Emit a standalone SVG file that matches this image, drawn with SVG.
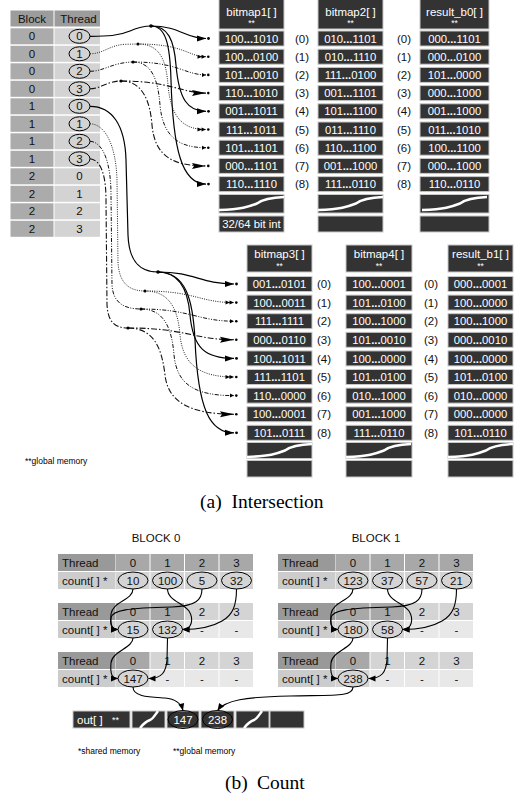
<svg xmlns="http://www.w3.org/2000/svg" xmlns:xlink="http://www.w3.org/1999/xlink" width="518" height="797" viewBox="0 0 518 797">
<defs>
<style>
.t{font-family:"Liberation Sans",Arial,sans-serif;}
.s{font-family:"Liberation Serif","Times New Roman",serif;font-size:19.5px;fill:#000;}
.hd{fill:#9c9c9c;}
.bk{fill:#ababab;}
.th{fill:#d3d3d3;}
.tt{font-size:11.5px;fill:#111;text-anchor:middle;}
.box{fill:#333;stroke:#c8c8c8;stroke-width:1;}
.bt{font-size:11.3px;fill:#fff;text-anchor:middle;}
.ht{font-size:11.5px;fill:#fff;text-anchor:middle;}
.st{font-size:8.5px;fill:#fff;text-anchor:middle;}
.ix{font-size:11.5px;fill:#111;text-anchor:middle;}
.el{fill:none;stroke:#000;stroke-width:1;}
.wave{fill:none;stroke:#fff;stroke-width:2.5;}
.c0{fill:none;stroke:#000;stroke-width:1.2;}
.c1{fill:none;stroke:#222;stroke-width:1;stroke-dasharray:1 1.3;}
.c2{fill:none;stroke:#111;stroke-width:1;stroke-dasharray:4 1.5 1 1.5 1 1.5;}
.c3{fill:none;stroke:#111;stroke-width:1.1;stroke-dasharray:6 2 1.5 2;}
.ca{fill:none;stroke:#000;stroke-width:1.1;}
.tl{fill:#999;}
.ta{fill:#a8a8a8;}
.ti{fill:#d4d4d4;}
.cl{fill:#ccc;}
.cv{fill:#d4d4d4;}
.cx{fill:#e8e8e8;}
.ct{font-size:11.5px;fill:#111;}
.cn{font-size:11.5px;fill:#111;text-anchor:middle;}
.fn{font-size:8.5px;fill:#000;}
.bl{font-size:11.5px;fill:#111;text-anchor:middle;}
.b{font-weight:bold;}
</style>
<path id="wave" class="wave" d="M0,15.5 C23,14.5 29,12.5 38,9 C44,4.5 51,3 65,2.5"/>
<path id="owave" class="wave" d="M8,17 C12,12 15,10 18,9 C21,8 23,4 26,0"/>
<marker id="mSolid" markerUnits="userSpaceOnUse" markerWidth="16" markerHeight="10" refX="9" refY="4" orient="auto" overflow="visible"><path d="M0,1 L9,4 L0,7 Z" fill="#000"/><circle cx="11.5" cy="4" r="1.4" fill="#000"/></marker>
<marker id="mDouble" markerUnits="userSpaceOnUse" markerWidth="16" markerHeight="10" refX="8.5" refY="3.5" orient="auto" overflow="visible"><path d="M0,1.5 L4.5,3.5 L0,5.5Z M4,1.5 L8.5,3.5 L4,5.5Z" fill="#000"/><circle cx="10.8" cy="3.5" r="1.3" fill="#000"/></marker>
<marker id="mSmall" markerUnits="userSpaceOnUse" markerWidth="12" markerHeight="8" refX="4" refY="3" orient="auto" overflow="visible"><path d="M0,1 L4,3 L0,5Z" fill="#000"/><circle cx="6.3" cy="3" r="1.3" fill="#000"/></marker>
<marker id="mBig" markerUnits="userSpaceOnUse" markerWidth="20" markerHeight="10" refX="14" refY="3.5" orient="auto" overflow="visible"><path d="M0,0.5 L14,3.5 L0,6.5 L2,3.5Z" fill="#000"/><circle cx="16.3" cy="3.5" r="1.3" fill="#000"/></marker>
<marker id="mC" markerUnits="userSpaceOnUse" markerWidth="10" markerHeight="8" refX="7" refY="3" orient="auto" overflow="visible"><path d="M0,0 L7,3 L0,6 Z" fill="#000"/></marker>
</defs>
<rect width="518" height="797" fill="#fff"/>

<!-- Block / Thread table -->
<g id="block-thread-table" class="t">
<rect x="10.5" y="10.5" width="43" height="16" class="hd"/>
<rect x="54.5" y="10.5" width="45.5" height="16" class="hd"/>
<text x="32" y="22.6" class="tt">Block</text>
<text x="78.5" y="22.6" class="tt">Thread</text>
<rect x="10.5" y="28.3" width="43" height="16" class="bk"/><rect x="54.5" y="28.3" width="45.5" height="16" class="th"/>
<rect x="10.5" y="45.8" width="43" height="16" class="bk"/><rect x="54.5" y="45.8" width="45.5" height="16" class="th"/>
<rect x="10.5" y="63.3" width="43" height="16" class="bk"/><rect x="54.5" y="63.3" width="45.5" height="16" class="th"/>
<rect x="10.5" y="80.8" width="43" height="16" class="bk"/><rect x="54.5" y="80.8" width="45.5" height="16" class="th"/>
<rect x="10.5" y="98.3" width="43" height="16" class="bk"/><rect x="54.5" y="98.3" width="45.5" height="16" class="th"/>
<rect x="10.5" y="115.8" width="43" height="16" class="bk"/><rect x="54.5" y="115.8" width="45.5" height="16" class="th"/>
<rect x="10.5" y="133.3" width="43" height="16" class="bk"/><rect x="54.5" y="133.3" width="45.5" height="16" class="th"/>
<rect x="10.5" y="150.8" width="43" height="16" class="bk"/><rect x="54.5" y="150.8" width="45.5" height="16" class="th"/>
<rect x="10.5" y="168.3" width="43" height="16" class="bk"/><rect x="54.5" y="168.3" width="45.5" height="16" class="th"/>
<rect x="10.5" y="185.8" width="43" height="16" class="bk"/><rect x="54.5" y="185.8" width="45.5" height="16" class="th"/>
<rect x="10.5" y="203.3" width="43" height="16" class="bk"/><rect x="54.5" y="203.3" width="45.5" height="16" class="th"/>
<rect x="10.5" y="220.8" width="43" height="16" class="bk"/><rect x="54.5" y="220.8" width="45.5" height="16" class="th"/>
<text x="32" y="40.4" class="tt">0</text><text x="79.5" y="40.4" class="tt">0</text>
<text x="32" y="57.9" class="tt">0</text><text x="79.5" y="57.9" class="tt">1</text>
<text x="32" y="75.4" class="tt">0</text><text x="79.5" y="75.4" class="tt">2</text>
<text x="32" y="92.9" class="tt">0</text><text x="79.5" y="92.9" class="tt">3</text>
<text x="32" y="110.4" class="tt">1</text><text x="79.5" y="110.4" class="tt">0</text>
<text x="32" y="127.9" class="tt">1</text><text x="79.5" y="127.9" class="tt">1</text>
<text x="32" y="145.4" class="tt">1</text><text x="79.5" y="145.4" class="tt">2</text>
<text x="32" y="162.9" class="tt">1</text><text x="79.5" y="162.9" class="tt">3</text>
<text x="32" y="180.4" class="tt">2</text><text x="79.5" y="180.4" class="tt">0</text>
<text x="32" y="197.9" class="tt">2</text><text x="79.5" y="197.9" class="tt">1</text>
<text x="32" y="215.4" class="tt">2</text><text x="79.5" y="215.4" class="tt">2</text>
<text x="32" y="232.9" class="tt">2</text><text x="79.5" y="232.9" class="tt">3</text>
<ellipse cx="79.5" cy="36.3" rx="10.5" ry="7" class="el"/>
<ellipse cx="79.5" cy="53.8" rx="10.5" ry="7" class="el"/>
<ellipse cx="79.5" cy="71.3" rx="10.5" ry="7" class="el"/>
<ellipse cx="79.5" cy="88.8" rx="10.5" ry="7" class="el"/>
<ellipse cx="79.5" cy="106.3" rx="10.5" ry="7" class="el"/>
<ellipse cx="79.5" cy="123.8" rx="10.5" ry="7" class="el"/>
<ellipse cx="79.5" cy="141.3" rx="10.5" ry="7" class="el"/>
<ellipse cx="79.5" cy="158.8" rx="10.5" ry="7" class="el"/>
</g>

<!-- Upper bitmap columns -->
<g id="bitmap1" class="t">
<rect x="219" y="-1" width="65" height="30" class="box"/>
<text x="251.5" y="15.5" class="ht">bitmap1[ ]</text><text x="251.5" y="25.5" class="st">**</text>
<rect x="219" y="31" width="65" height="15" class="box"/><text x="251.5" y="42.6" class="bt">100<tspan class="b">...</tspan>1010</text>
<rect x="219" y="49.2" width="65" height="15" class="box"/><text x="251.5" y="60.8" class="bt">100<tspan class="b">...</tspan>0100</text>
<rect x="219" y="67.4" width="65" height="15" class="box"/><text x="251.5" y="79" class="bt">101<tspan class="b">...</tspan>0010</text>
<rect x="219" y="85.6" width="65" height="15" class="box"/><text x="251.5" y="97.2" class="bt">110<tspan class="b">...</tspan>1010</text>
<rect x="219" y="103.8" width="65" height="15" class="box"/><text x="251.5" y="115.4" class="bt">001<tspan class="b">...</tspan>1011</text>
<rect x="219" y="122" width="65" height="15" class="box"/><text x="251.5" y="133.6" class="bt">111<tspan class="b">...</tspan>1011</text>
<rect x="219" y="140.2" width="65" height="15" class="box"/><text x="251.5" y="151.8" class="bt">101<tspan class="b">...</tspan>1101</text>
<rect x="219" y="158.4" width="65" height="15" class="box"/><text x="251.5" y="170" class="bt">000<tspan class="b">...</tspan>1101</text>
<rect x="219" y="176.6" width="65" height="15" class="box"/><text x="251.5" y="188.2" class="bt">110<tspan class="b">...</tspan>1110</text>
<rect x="219" y="194.5" width="65" height="18.5" class="box"/><use xlink:href="#wave" transform="translate(219,194.5)"/>
<rect x="219" y="216" width="65" height="16" class="box"/><text x="251.5" y="228.2" class="bt">32/64 bit int</text>
</g>
<g id="bitmap2" class="t">
<rect x="318" y="-1" width="65" height="30" class="box"/>
<text x="350.5" y="15.5" class="ht">bitmap2[ ]</text><text x="350.5" y="25.5" class="st">**</text>
<rect x="318" y="31" width="65" height="15" class="box"/><text x="350.5" y="42.6" class="bt">010<tspan class="b">...</tspan>1101</text>
<rect x="318" y="49.2" width="65" height="15" class="box"/><text x="350.5" y="60.8" class="bt">010<tspan class="b">...</tspan>1110</text>
<rect x="318" y="67.4" width="65" height="15" class="box"/><text x="350.5" y="79" class="bt">111<tspan class="b">...</tspan>0100</text>
<rect x="318" y="85.6" width="65" height="15" class="box"/><text x="350.5" y="97.2" class="bt">001<tspan class="b">...</tspan>1101</text>
<rect x="318" y="103.8" width="65" height="15" class="box"/><text x="350.5" y="115.4" class="bt">101<tspan class="b">...</tspan>1100</text>
<rect x="318" y="122" width="65" height="15" class="box"/><text x="350.5" y="133.6" class="bt">011<tspan class="b">...</tspan>1110</text>
<rect x="318" y="140.2" width="65" height="15" class="box"/><text x="350.5" y="151.8" class="bt">110<tspan class="b">...</tspan>1100</text>
<rect x="318" y="158.4" width="65" height="15" class="box"/><text x="350.5" y="170" class="bt">001<tspan class="b">...</tspan>1000</text>
<rect x="318" y="176.6" width="65" height="15" class="box"/><text x="350.5" y="188.2" class="bt">111<tspan class="b">...</tspan>0110</text>
<rect x="318" y="194.5" width="65" height="18.5" class="box"/><use xlink:href="#wave" transform="translate(318,194.5)"/>
<rect x="318" y="216" width="65" height="16" class="box"/>
</g>
<g id="result_b0" class="t">
<rect x="420" y="-1" width="69" height="30" class="box"/>
<text x="454.5" y="15.5" class="ht">result_b0[ ]</text><text x="454.5" y="25.5" class="st">**</text>
<rect x="420" y="31" width="69" height="15" class="box"/><text x="454.5" y="42.6" class="bt">000<tspan class="b">...</tspan>1101</text>
<rect x="420" y="49.2" width="69" height="15" class="box"/><text x="454.5" y="60.8" class="bt">000<tspan class="b">...</tspan>0100</text>
<rect x="420" y="67.4" width="69" height="15" class="box"/><text x="454.5" y="79" class="bt">101<tspan class="b">...</tspan>0000</text>
<rect x="420" y="85.6" width="69" height="15" class="box"/><text x="454.5" y="97.2" class="bt">000<tspan class="b">...</tspan>1000</text>
<rect x="420" y="103.8" width="69" height="15" class="box"/><text x="454.5" y="115.4" class="bt">001<tspan class="b">...</tspan>1000</text>
<rect x="420" y="122" width="69" height="15" class="box"/><text x="454.5" y="133.6" class="bt">011<tspan class="b">...</tspan>1010</text>
<rect x="420" y="140.2" width="69" height="15" class="box"/><text x="454.5" y="151.8" class="bt">100<tspan class="b">...</tspan>1100</text>
<rect x="420" y="158.4" width="69" height="15" class="box"/><text x="454.5" y="170" class="bt">000<tspan class="b">...</tspan>1000</text>
<rect x="420" y="176.6" width="69" height="15" class="box"/><text x="454.5" y="188.2" class="bt">110<tspan class="b">...</tspan>0110</text>
<rect x="420" y="194.5" width="69" height="18.5" class="box"/><use xlink:href="#wave" transform="translate(422,194.5)"/>
<rect x="420" y="216" width="69" height="16" class="box"/>
</g>
<g id="upper-index" class="t">
<text x="302" y="42.6" class="ix">(0)</text><text x="404" y="42.6" class="ix">(0)</text>
<text x="302" y="60.8" class="ix">(1)</text><text x="404" y="60.8" class="ix">(1)</text>
<text x="302" y="79" class="ix">(2)</text><text x="404" y="79" class="ix">(2)</text>
<text x="302" y="97.2" class="ix">(3)</text><text x="404" y="97.2" class="ix">(3)</text>
<text x="302" y="115.4" class="ix">(4)</text><text x="404" y="115.4" class="ix">(4)</text>
<text x="302" y="133.6" class="ix">(5)</text><text x="404" y="133.6" class="ix">(5)</text>
<text x="302" y="151.8" class="ix">(6)</text><text x="404" y="151.8" class="ix">(6)</text>
<text x="302" y="170" class="ix">(7)</text><text x="404" y="170" class="ix">(7)</text>
<text x="302" y="188.2" class="ix">(8)</text><text x="404" y="188.2" class="ix">(8)</text>
</g>

<!-- Lower bitmap columns -->
<g id="bitmap3" class="t">
<rect x="247" y="245" width="65" height="27" class="box"/>
<text x="279.5" y="257.5" class="ht">bitmap3[ ]</text><text x="279.5" y="268.5" class="st">**</text>
<rect x="247" y="276.5" width="65" height="15" class="box"/><text x="279.5" y="288.1" class="bt">001<tspan class="b">...</tspan>0101</text>
<rect x="247" y="295.1" width="65" height="15" class="box"/><text x="279.5" y="306.7" class="bt">100<tspan class="b">...</tspan>0011</text>
<rect x="247" y="313.7" width="65" height="15" class="box"/><text x="279.5" y="325.3" class="bt">111<tspan class="b">...</tspan>1111</text>
<rect x="247" y="332.3" width="65" height="15" class="box"/><text x="279.5" y="343.9" class="bt">000<tspan class="b">...</tspan>0110</text>
<rect x="247" y="350.9" width="65" height="15" class="box"/><text x="279.5" y="362.5" class="bt">100<tspan class="b">...</tspan>1011</text>
<rect x="247" y="369.5" width="65" height="15" class="box"/><text x="279.5" y="381.1" class="bt">111<tspan class="b">...</tspan>1101</text>
<rect x="247" y="388.1" width="65" height="15" class="box"/><text x="279.5" y="399.7" class="bt">110<tspan class="b">...</tspan>0000</text>
<rect x="247" y="406.7" width="65" height="15" class="box"/><text x="279.5" y="418.3" class="bt">100<tspan class="b">...</tspan>0001</text>
<rect x="247" y="425.3" width="65" height="15" class="box"/><text x="279.5" y="436.9" class="bt">101<tspan class="b">...</tspan>0111</text>
<rect x="247" y="442.5" width="65" height="16" class="box"/><use xlink:href="#wave" transform="translate(247,441.5)"/>
<rect x="247" y="460.5" width="65" height="16.5" class="box"/>
</g>
<g id="bitmap4" class="t">
<rect x="346" y="245" width="66" height="27" class="box"/>
<text x="379" y="257.5" class="ht">bitmap4[ ]</text><text x="379" y="268.5" class="st">**</text>
<rect x="346" y="276.5" width="66" height="15" class="box"/><text x="379" y="288.1" class="bt">100<tspan class="b">...</tspan>0001</text>
<rect x="346" y="295.1" width="66" height="15" class="box"/><text x="379" y="306.7" class="bt">101<tspan class="b">...</tspan>0100</text>
<rect x="346" y="313.7" width="66" height="15" class="box"/><text x="379" y="325.3" class="bt">100<tspan class="b">...</tspan>1000</text>
<rect x="346" y="332.3" width="66" height="15" class="box"/><text x="379" y="343.9" class="bt">101<tspan class="b">...</tspan>0010</text>
<rect x="346" y="350.9" width="66" height="15" class="box"/><text x="379" y="362.5" class="bt">100<tspan class="b">...</tspan>0000</text>
<rect x="346" y="369.5" width="66" height="15" class="box"/><text x="379" y="381.1" class="bt">101<tspan class="b">...</tspan>0100</text>
<rect x="346" y="388.1" width="66" height="15" class="box"/><text x="379" y="399.7" class="bt">010<tspan class="b">...</tspan>1000</text>
<rect x="346" y="406.7" width="66" height="15" class="box"/><text x="379" y="418.3" class="bt">001<tspan class="b">...</tspan>1000</text>
<rect x="346" y="425.3" width="66" height="15" class="box"/><text x="379" y="436.9" class="bt">111<tspan class="b">...</tspan>0110</text>
<rect x="346" y="442.5" width="66" height="16" class="box"/><use xlink:href="#wave" transform="translate(346,441.5)"/>
<rect x="346" y="460.5" width="66" height="16.5" class="box"/>
</g>
<g id="result_b1" class="t">
<rect x="448" y="245" width="65" height="27" class="box"/>
<text x="480.5" y="257.5" class="ht">result_b1[ ]</text><text x="480.5" y="268.5" class="st">**</text>
<rect x="448" y="276.5" width="65" height="15" class="box"/><text x="480.5" y="288.1" class="bt">000<tspan class="b">...</tspan>0001</text>
<rect x="448" y="295.1" width="65" height="15" class="box"/><text x="480.5" y="306.7" class="bt">100<tspan class="b">...</tspan>0000</text>
<rect x="448" y="313.7" width="65" height="15" class="box"/><text x="480.5" y="325.3" class="bt">100<tspan class="b">...</tspan>1000</text>
<rect x="448" y="332.3" width="65" height="15" class="box"/><text x="480.5" y="343.9" class="bt">000<tspan class="b">...</tspan>0010</text>
<rect x="448" y="350.9" width="65" height="15" class="box"/><text x="480.5" y="362.5" class="bt">100<tspan class="b">...</tspan>0000</text>
<rect x="448" y="369.5" width="65" height="15" class="box"/><text x="480.5" y="381.1" class="bt">101<tspan class="b">...</tspan>0100</text>
<rect x="448" y="388.1" width="65" height="15" class="box"/><text x="480.5" y="399.7" class="bt">010<tspan class="b">...</tspan>0000</text>
<rect x="448" y="406.7" width="65" height="15" class="box"/><text x="480.5" y="418.3" class="bt">000<tspan class="b">...</tspan>0000</text>
<rect x="448" y="425.3" width="65" height="15" class="box"/><text x="480.5" y="436.9" class="bt">101<tspan class="b">...</tspan>0110</text>
<rect x="448" y="442.5" width="65" height="16" class="box"/><use xlink:href="#wave" transform="translate(448,441.5)"/>
<rect x="448" y="460.5" width="65" height="16.5" class="box"/>
</g>
<g id="lower-index" class="t">
<text x="324" y="288.1" class="ix">(0)</text><text x="431" y="288.1" class="ix">(0)</text>
<text x="324" y="306.7" class="ix">(1)</text><text x="431" y="306.7" class="ix">(1)</text>
<text x="324" y="325.3" class="ix">(2)</text><text x="431" y="325.3" class="ix">(2)</text>
<text x="324" y="343.9" class="ix">(3)</text><text x="431" y="343.9" class="ix">(3)</text>
<text x="324" y="362.5" class="ix">(4)</text><text x="431" y="362.5" class="ix">(4)</text>
<text x="324" y="381.1" class="ix">(5)</text><text x="431" y="381.1" class="ix">(5)</text>
<text x="324" y="399.7" class="ix">(6)</text><text x="431" y="399.7" class="ix">(6)</text>
<text x="324" y="418.3" class="ix">(7)</text><text x="431" y="418.3" class="ix">(7)</text>
<text x="324" y="436.9" class="ix">(8)</text><text x="431" y="436.9" class="ix">(8)</text>
</g>

<!-- Connectors: intersection -->
<g id="connectors-intersection">
<path class="c0" d="M90,36.3 C108,36.3 118,36 130,31 C138,27.5 144,26 151,26"/>
<path class="c0" d="M151,26 C180,26 185,38.5 206,38.5" marker-end="url(#mSolid)"/>
<path class="c0" d="M151,26 C168,26 174,40 176,65 C179,100 188,111.3 206,111.3" marker-end="url(#mSolid)"/>
<path class="c0" d="M151,26 C166,26 170,45 171,80 C173,150 182,184.1 206,184.1" marker-end="url(#mSolid)"/>
<path class="c1" d="M90,53.8 C103,53.8 110,45 125,44.3 L138,44"/>
<path class="c1" d="M138,44 C185,44 188,56.7 206,56.7" marker-end="url(#mDouble)"/>
<path class="c1" d="M138,44 C160,44 166,60 168,85 C171,120 185,129.5 206,129.5" marker-end="url(#mDouble)"/>
<path class="c2" d="M90,71.3 C104,71.3 112,62.5 133,62"/>
<path class="c2" d="M133,62 C178,62 185,74.9 206,74.9" marker-end="url(#mSmall)"/>
<path class="c2" d="M133,62 C152,62 158,80 160,105 C163,138 180,147.7 206,147.7" marker-end="url(#mSmall)"/>
<path class="c3" d="M90,88.8 C100,88.8 108,81 121,81"/>
<path class="c3" d="M121,81 C170,81 182,93.1 206,93.1" marker-end="url(#mBig)"/>
<path class="c3" d="M121,81 C142,81 150,100 152,125 C155,158 175,165.9 206,165.9" marker-end="url(#mBig)"/>
<circle cx="151" cy="26" r="1.8"/><circle cx="138" cy="44" r="1.6"/><circle cx="133" cy="62" r="1.6"/><circle cx="121" cy="81" r="1.6"/>

<path class="c0" d="M90,106.3 C112,106.3 125,125 126,160 L128,235 C129,262 140,272 158,272"/>
<path class="c0" d="M158,272 C195,272 200,284 234,284" marker-end="url(#mSolid)"/>
<path class="c0" d="M158,272 C180,272 188,290 190,315 C193,348 205,358.4 234,358.4" marker-end="url(#mSolid)"/>
<path class="c0" d="M158,272 C186,272 193,300 195,340 C198,410 210,432.8 234,432.8" marker-end="url(#mSolid)"/>
<path class="c1" d="M90,123.8 C105,124 116,145 117,180 L118,262 C119,282 128,291 145,291"/>
<path class="c1" d="M145,291 C195,291 200,302.6 234,302.6" marker-end="url(#mDouble)"/>
<path class="c1" d="M145,291 C170,291 178,310 180,335 C183,365 200,377 234,377" marker-end="url(#mDouble)"/>
<path class="c2" d="M90,141.3 C104,142 111,165 111,195 L112,285 C113,302 123,309 141,309"/>
<path class="c2" d="M141,309 C190,309 198,321.2 234,321.2" marker-end="url(#mSmall)"/>
<path class="c2" d="M141,309 C165,309 172,330 174,355 C177,385 195,395.6 234,395.6" marker-end="url(#mSmall)"/>
<path class="c3" d="M90,158.8 C102,160 106,178 106,200 L107,305 C108,321 114,328 128,328"/>
<path class="c3" d="M128,328 C185,328 195,339.8 234,339.8" marker-end="url(#mBig)"/>
<path class="c3" d="M128,328 C155,328 162,350 165,375 C168,402 190,414.2 234,414.2" marker-end="url(#mBig)"/>
<circle cx="158" cy="272" r="1.8"/><circle cx="145" cy="291" r="1.6"/><circle cx="141" cy="309" r="1.6"/><circle cx="128" cy="328" r="1.6"/>
</g>

<text x="25" y="464" class="t fn">**global memory</text>
<text class="s" y="508"><tspan x="200">(a)</tspan><tspan x="231.5">Intersection</tspan></text>

<!-- Count: Block 0 -->
<g id="block0" class="t">
<text x="156" y="542" class="bl">BLOCK 0</text>
<rect x="58" y="554" width="57.5" height="17" class="tl"/>
<rect x="116" y="554" width="33.5" height="17" class="ta"/><rect x="150.5" y="554" width="33.5" height="17" class="ta"/><rect x="185" y="554" width="33.5" height="17" class="ta"/><rect x="219.5" y="554" width="33.5" height="17" class="ta"/>
<rect x="58" y="572" width="57.5" height="17" class="cl"/>
<rect x="116" y="572" width="33.5" height="17" class="cv"/><rect x="150.5" y="572" width="33.5" height="17" class="cv"/><rect x="185" y="572" width="33.5" height="17" class="cv"/><rect x="219.5" y="572" width="33.5" height="17" class="cv"/>
<text x="62" y="566.7" class="ct">Thread</text>
<text x="133" y="566.7" class="cn">0</text><text x="167.5" y="566.7" class="cn">1</text><text x="202" y="566.7" class="cn">2</text><text x="236.5" y="566.7" class="cn">3</text>
<text x="62" y="584.7" class="ct">count[ ] *</text>
<text x="133" y="584.7" class="cn">10</text><text x="167.5" y="584.7" class="cn">100</text><text x="202" y="584.7" class="cn">5</text><text x="236.5" y="584.7" class="cn">32</text>
<ellipse cx="133" cy="580.5" rx="15" ry="8.5" class="el"/><ellipse cx="167.5" cy="580.5" rx="15" ry="8.5" class="el"/><ellipse cx="202" cy="580.5" rx="15" ry="8.5" class="el"/><ellipse cx="236.5" cy="580.5" rx="15" ry="8.5" class="el"/>

<rect x="58" y="603" width="57.5" height="17" class="tl"/>
<rect x="116" y="603" width="33.5" height="17" class="ta"/><rect x="150.5" y="603" width="33.5" height="17" class="ta"/><rect x="185" y="603" width="33.5" height="17" class="ti"/><rect x="219.5" y="603" width="33.5" height="17" class="ti"/>
<rect x="58" y="621" width="57.5" height="17" class="cl"/>
<rect x="116" y="621" width="33.5" height="17" class="cv"/><rect x="150.5" y="621" width="33.5" height="17" class="cv"/><rect x="185" y="621" width="33.5" height="17" class="cx"/><rect x="219.5" y="621" width="33.5" height="17" class="cx"/>
<text x="62" y="615.7" class="ct">Thread</text>
<text x="133" y="615.7" class="cn">0</text><text x="167.5" y="615.7" class="cn">1</text><text x="202" y="615.7" class="cn">2</text><text x="236.5" y="615.7" class="cn">3</text>
<text x="62" y="633.7" class="ct">count[ ] *</text>
<text x="133" y="633.7" class="cn">15</text><text x="167.5" y="633.7" class="cn">132</text><text x="202" y="633.7" class="cn">-</text><text x="236.5" y="633.7" class="cn">-</text>
<ellipse cx="133" cy="629.5" rx="15" ry="8.5" class="el"/><ellipse cx="167.5" cy="629.5" rx="15" ry="8.5" class="el"/>

<rect x="58" y="652" width="57.5" height="17" class="tl"/>
<rect x="116" y="652" width="33.5" height="17" class="ta"/><rect x="150.5" y="652" width="33.5" height="17" class="ti"/><rect x="185" y="652" width="33.5" height="17" class="ti"/><rect x="219.5" y="652" width="33.5" height="17" class="ti"/>
<rect x="58" y="670" width="57.5" height="17" class="cl"/>
<rect x="116" y="670" width="33.5" height="17" class="cv"/><rect x="150.5" y="670" width="33.5" height="17" class="cx"/><rect x="185" y="670" width="33.5" height="17" class="cx"/><rect x="219.5" y="670" width="33.5" height="17" class="cx"/>
<text x="62" y="664.7" class="ct">Thread</text>
<text x="133" y="664.7" class="cn">0</text><text x="167.5" y="664.7" class="cn">1</text><text x="202" y="664.7" class="cn">2</text><text x="236.5" y="664.7" class="cn">3</text>
<text x="62" y="682.7" class="ct">count[ ] *</text>
<text x="133" y="682.7" class="cn">147</text><text x="167.5" y="682.7" class="cn">-</text><text x="202" y="682.7" class="cn">-</text><text x="236.5" y="682.7" class="cn">-</text>
<ellipse cx="133" cy="678.5" rx="15" ry="8.5" class="el"/>
</g>

<!-- Count: Block 1 -->
<g id="block1" class="t">
<text x="376" y="542" class="bl">BLOCK 1</text>
<rect x="278" y="554" width="57.5" height="17" class="tl"/>
<rect x="336" y="554" width="33.5" height="17" class="ta"/><rect x="370.5" y="554" width="33.5" height="17" class="ta"/><rect x="405" y="554" width="33.5" height="17" class="ta"/><rect x="439.5" y="554" width="33.5" height="17" class="ta"/>
<rect x="278" y="572" width="57.5" height="17" class="cl"/>
<rect x="336" y="572" width="33.5" height="17" class="cv"/><rect x="370.5" y="572" width="33.5" height="17" class="cv"/><rect x="405" y="572" width="33.5" height="17" class="cv"/><rect x="439.5" y="572" width="33.5" height="17" class="cv"/>
<text x="282" y="566.7" class="ct">Thread</text>
<text x="353" y="566.7" class="cn">0</text><text x="387.5" y="566.7" class="cn">1</text><text x="422" y="566.7" class="cn">2</text><text x="456.5" y="566.7" class="cn">3</text>
<text x="282" y="584.7" class="ct">count[ ] *</text>
<text x="353" y="584.7" class="cn">123</text><text x="387.5" y="584.7" class="cn">37</text><text x="422" y="584.7" class="cn">57</text><text x="456.5" y="584.7" class="cn">21</text>
<ellipse cx="353" cy="580.5" rx="15" ry="8.5" class="el"/><ellipse cx="387.5" cy="580.5" rx="15" ry="8.5" class="el"/><ellipse cx="422" cy="580.5" rx="15" ry="8.5" class="el"/><ellipse cx="456.5" cy="580.5" rx="15" ry="8.5" class="el"/>

<rect x="278" y="603" width="57.5" height="17" class="tl"/>
<rect x="336" y="603" width="33.5" height="17" class="ta"/><rect x="370.5" y="603" width="33.5" height="17" class="ta"/><rect x="405" y="603" width="33.5" height="17" class="ti"/><rect x="439.5" y="603" width="33.5" height="17" class="ti"/>
<rect x="278" y="621" width="57.5" height="17" class="cl"/>
<rect x="336" y="621" width="33.5" height="17" class="cv"/><rect x="370.5" y="621" width="33.5" height="17" class="cv"/><rect x="405" y="621" width="33.5" height="17" class="cx"/><rect x="439.5" y="621" width="33.5" height="17" class="cx"/>
<text x="282" y="615.7" class="ct">Thread</text>
<text x="353" y="615.7" class="cn">0</text><text x="387.5" y="615.7" class="cn">1</text><text x="422" y="615.7" class="cn">2</text><text x="456.5" y="615.7" class="cn">3</text>
<text x="282" y="633.7" class="ct">count[ ] *</text>
<text x="353" y="633.7" class="cn">180</text><text x="387.5" y="633.7" class="cn">58</text><text x="422" y="633.7" class="cn">-</text><text x="456.5" y="633.7" class="cn">-</text>
<ellipse cx="353" cy="629.5" rx="15" ry="8.5" class="el"/><ellipse cx="387.5" cy="629.5" rx="15" ry="8.5" class="el"/>

<rect x="278" y="652" width="57.5" height="17" class="tl"/>
<rect x="336" y="652" width="33.5" height="17" class="ta"/><rect x="370.5" y="652" width="33.5" height="17" class="ti"/><rect x="405" y="652" width="33.5" height="17" class="ti"/><rect x="439.5" y="652" width="33.5" height="17" class="ti"/>
<rect x="278" y="670" width="57.5" height="17" class="cl"/>
<rect x="336" y="670" width="33.5" height="17" class="cv"/><rect x="370.5" y="670" width="33.5" height="17" class="cx"/><rect x="405" y="670" width="33.5" height="17" class="cx"/><rect x="439.5" y="670" width="33.5" height="17" class="cx"/>
<text x="282" y="664.7" class="ct">Thread</text>
<text x="353" y="664.7" class="cn">0</text><text x="387.5" y="664.7" class="cn">1</text><text x="422" y="664.7" class="cn">2</text><text x="456.5" y="664.7" class="cn">3</text>
<text x="282" y="682.7" class="ct">count[ ] *</text>
<text x="353" y="682.7" class="cn">238</text><text x="387.5" y="682.7" class="cn">-</text><text x="422" y="682.7" class="cn">-</text><text x="456.5" y="682.7" class="cn">-</text>
<ellipse cx="353" cy="678.5" rx="15" ry="8.5" class="el"/>
</g>

<!-- out[] array -->
<g id="out-array" class="t">
<rect x="73" y="711" width="57" height="17" class="box"/>
<text x="77" y="723.5" font-size="11.5" fill="#fff">out[ ]</text><text x="112" y="722.5" font-size="9" fill="#fff">**</text>
<rect x="132" y="711" width="33" height="17" class="box"/><use xlink:href="#owave" transform="translate(132,711)"/>
<rect x="167" y="711" width="32" height="17" class="box"/>
<rect x="201" y="711" width="33" height="17" class="box"/>
<rect x="236" y="711" width="33" height="17" class="box"/><use xlink:href="#owave" transform="translate(236,711)"/>
<rect x="270" y="711" width="34" height="17" class="box"/>
<text x="183" y="723.7" font-size="11.5" fill="#fff" text-anchor="middle">147</text>
<text x="217.5" y="723.7" font-size="11.5" fill="#fff" text-anchor="middle">238</text>
<ellipse cx="183" cy="719.5" rx="15" ry="9" class="el"/>
<ellipse cx="217.5" cy="719.5" rx="15" ry="9" class="el"/>
</g>

<!-- Connectors: count -->
<g id="connectors-count">
<path class="ca" d="M133,589 C133,600 112,602 111,614 C110,625 112,629.5 118,629.5" marker-end="url(#mC)"/>
<path class="ca" d="M202,589 C202,600 196,606 172,607 C128,608 112,610 111,618 C110,626 112,629.5 118,629.5" marker-end="url(#mC)"/>
<path class="ca" d="M167.5,589 C167.5,600 183,603 189,611 C194,619 192,629.5 182.5,629.5" marker-end="url(#mC)"/>
<path class="ca" d="M236.5,589 C236.5,605 233,615 222,621 C212,627 196,629.5 182.5,629.5" marker-end="url(#mC)"/>
<path class="ca" d="M133,638 C133,648 112,651 111,663 C110,674 112,678.5 118,678.5" marker-end="url(#mC)"/>
<path class="ca" d="M167.5,638 L167,660 C166,672 162,678.5 148.5,678.5" marker-end="url(#mC)"/>
<path class="ca" d="M353,589 C353,600 332,602 331,614 C330,625 332,629.5 338,629.5" marker-end="url(#mC)"/>
<path class="ca" d="M422,589 C422,600 416,606 392,607 C348,608 332,610 331,618 C330,626 332,629.5 338,629.5" marker-end="url(#mC)"/>
<path class="ca" d="M387.5,589 C387.5,600 403,603 409,611 C414,619 412,629.5 402.5,629.5" marker-end="url(#mC)"/>
<path class="ca" d="M456.5,589 C456.5,605 453,615 442,621 C432,627 416,629.5 402.5,629.5" marker-end="url(#mC)"/>
<path class="ca" d="M353,638 C353,648 332,651 331,663 C330,674 332,678.5 338,678.5" marker-end="url(#mC)"/>
<path class="ca" d="M387.5,638 L387,660 C386,672 382,678.5 368.5,678.5" marker-end="url(#mC)"/>
<path class="ca" d="M133,687 C133,697 150,697 165,698 C176,699 181,703 183,710.5" marker-end="url(#mC)"/>
<path class="ca" d="M353,687 C353,697 335,695 290,696 C245,697 225,700 217.5,710.5" marker-end="url(#mC)"/>
</g>

<text x="78" y="754" class="t fn">*shared memory</text>
<text x="173" y="754" class="t fn">**global memory</text>
<text class="s" y="789"><tspan x="225">(b)</tspan><tspan x="257">Count</tspan></text>
</svg>
